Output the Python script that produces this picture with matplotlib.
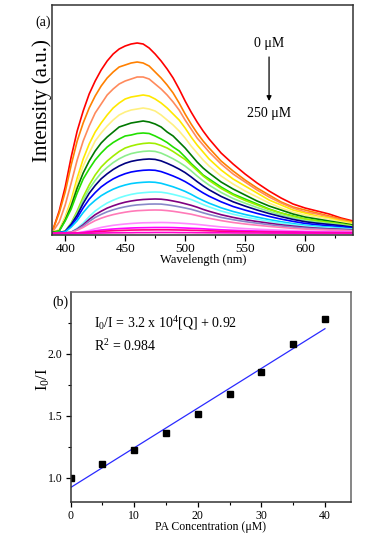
import matplotlib
matplotlib.use('Agg')
import matplotlib.pyplot as plt
from matplotlib.ticker import MultipleLocator

plt.rcParams['font.family'] = ['Liberation Serif', 'DejaVu Serif']
plt.rcParams['mathtext.fontset'] = 'custom'
plt.rcParams['mathtext.rm'] = 'Liberation Serif'
plt.rcParams['mathtext.it'] = 'Liberation Serif:italic'
plt.rcParams['mathtext.bf'] = 'Liberation Serif:bold'

# ---------------- data: panel (a) emission spectra ----------------
wavelength = [390, 395, 400, 405, 410, 415, 420, 425, 430, 435, 440, 445, 450, 455,
              460, 465, 470, 475, 480, 485, 490, 495, 500, 505, 510, 515, 520,
              530, 540, 550, 560, 570, 580, 590, 600, 610, 620, 630, 640]

spec_red = [6, 24, 48, 78, 104, 124, 141, 154, 165, 174, 181, 186, 189, 191, 192, 191, 187, 181,
            174, 166, 157, 146, 134, 123, 113, 104, 96,
            82, 71, 61, 52, 44, 37, 31, 27, 24, 21, 17, 14]
spec_orange = [6, 22, 43, 70, 94, 112, 127, 139, 149, 157, 163, 168, 170, 172, 173, 172, 169, 163,
               157, 150, 142, 132, 121, 111, 102, 94, 87,
               74, 64, 55, 47, 40, 33, 28, 25, 22, 19, 16, 13]
spec_coral = [4, 13, 30, 52, 75, 94, 109, 122, 131, 140, 146, 151, 154, 156, 158, 158, 156, 151,
              146, 140, 133, 125, 115, 106, 97, 90, 83,
              71, 61, 53, 45, 38, 32, 27, 23, 21, 18, 15, 12]
spec_yellow = [3, 5, 18, 35, 57, 76, 91, 103, 112, 120, 127, 132, 136, 138, 139, 140, 139, 136,
               132, 127, 121, 115, 107, 98, 90, 83, 76,
               65, 56, 49, 42, 35, 30, 25, 22, 19, 17, 14, 12]
spec_lightyellow = [3, 5, 17, 32, 52, 69, 82, 94, 102, 109, 115, 120, 123, 125, 126, 127, 126, 124,
                    120, 115, 110, 104, 97, 89, 82, 75, 69,
                    59, 51, 44, 38, 32, 27, 23, 20, 18, 16, 13, 11]
spec_darkgreen = [3, 4, 15, 29, 47, 62, 74, 84, 92, 98, 103, 108, 110, 112, 113, 114, 113, 111,
                  108, 103, 99, 93, 87, 80, 73, 67, 62,
                  53, 46, 40, 34, 29, 25, 21, 18, 16, 14, 12, 10]
spec_green = [2.5, 4, 14, 26, 42, 56, 66, 75, 82, 88, 92.5, 96, 99, 100, 101.5, 102, 101.5, 99,
              96, 92.5, 88, 84, 78, 71.5, 66, 60, 56,
              48, 41, 36, 31, 26, 22, 19, 16, 14.4, 12.8, 11, 9]
spec_chartreuse = [2, 2.5, 4, 12, 24, 38, 50, 60, 68, 74, 79, 83.5, 87, 89, 90.5, 91.5, 92, 91.5,
                   89.5, 87, 83.5, 79.5, 75.5, 70, 64.5, 59, 54.5,
                   46.5, 40, 34.5, 30, 25.5, 22, 18.5, 16, 14, 12.5, 11, 9]
spec_lightgreen = [2, 2.4, 3.7, 11.5, 22, 35, 46, 54.6, 62, 67.6, 72.4, 76.2, 79.2, 81.4, 82.7,
                   83.6, 84, 83.6, 81.9, 79.2, 76.2, 72.8, 68.9, 64.2, 59, 54.2, 49.9,
                   42.6, 36.5, 31.8, 27.5, 23.6, 20.1, 17.1, 14.5, 12.8, 11.5, 10.2, 8.5]
spec_navy = [2, 2.4, 3.6, 10.6, 19.9, 31.6, 41.7, 49.5, 56.2, 61.2, 65.5, 69, 71.7, 73.6, 74.8,
             75.6, 76, 75.6, 74.1, 71.7, 69, 65.9, 62.4, 58.1, 53.4, 49.1, 45.2,
             38.6, 33.2, 28.9, 25, 21.5, 18.4, 15.6, 13.3, 11.8, 10.6, 9.4, 7.8]
spec_blue = [2, 2.3, 3.3, 9.3, 17.2, 27.2, 35.8, 42.4, 48.1, 52.4, 56.1, 59, 61.3, 63, 64,
             64.7, 65, 64.7, 63.4, 61.3, 59, 56.4, 53.4, 49.8, 45.8, 42.1, 38.8,
             33.2, 28.5, 24.9, 21.6, 18.6, 15.9, 13.6, 11.6, 10.3, 9.3, 8.3, 7]
spec_cyan = [2, 2.3, 3.1, 7.9, 14.3, 22.4, 29.4, 34.7, 39.3, 42.8, 45.8, 48.2, 50, 51.4, 52.2,
             52.7, 53, 52.7, 51.7, 50, 48.2, 46, 43.6, 40.7, 37.4, 34.5, 31.8,
             27.2, 23.5, 20.5, 17.9, 15.4, 13.3, 11.4, 9.8, 8.7, 7.9, 7.1, 6]
spec_lightcyan = [2, 2, 2.2, 2.9, 6.8, 11.9, 18.4, 24, 28.3, 32, 34.8, 37.2, 39.1, 40.6, 41.7,
                  42.3, 42.8, 43, 42.8, 41.9, 40.6, 39.1, 37.4, 35.5, 33.1, 30.5, 28.1,
                  24, 20.8, 18.1, 15.8, 13.8, 11.9, 10.3, 8.9, 7.8, 7.1, 6.4, 5.7]
spec_purple = [2, 2, 2.2, 2.7, 5.9, 10.2, 15.6, 20.3, 23.8, 26.9, 29.2, 31.2, 32.8, 34, 34.9,
               35.5, 35.8, 36, 35.8, 35.1, 34, 32.8, 31.3, 29.7, 27.8, 25.6, 23.7,
               20.3, 17.6, 15.3, 13.5, 11.8, 10.2, 8.9, 7.7, 6.8, 6.2, 5.7, 5.1]
spec_slate = [2, 2, 2.1, 2.6, 5.4, 9, 13.6, 17.6, 20.6, 23.2, 25.2, 26.9, 28.2, 29.3, 30.1,
              30.5, 30.9, 31, 30.9, 30.2, 29.3, 28.2, 27, 25.7, 24, 22.2, 20.5,
              17.6, 15.3, 13.4, 11.8, 10.3, 9, 7.9, 6.9, 6.1, 5.6, 5.1, 4.6]
spec_pink = [2, 2, 2.1, 2.5, 4.7, 7.6, 11.2, 14.4, 16.8, 18.8, 20.4, 21.7, 22.8, 23.7, 24.3,
             24.6, 24.9, 25, 24.9, 24.4, 23.7, 22.8, 21.8, 20.8, 19.4, 18, 16.7,
             14.4, 12.5, 11, 9.8, 8.6, 7.6, 6.6, 5.9, 5.3, 4.9, 4.5, 4.1]
spec_violet = [2, 2, 2, 2.05, 2.2, 3.2, 4.5, 6.2, 7.6, 8.7, 9.7, 10.4, 11, 11.5, 11.9,
               12.2, 12.3, 12.4, 12.5, 12.4, 12.2, 11.9, 11.5, 11.1, 10.6, 10, 9.3,
               8.1, 7.2, 6.4, 5.8, 5.3, 4.8, 4.3, 3.9, 3.6, 3.4, 3.2, 3.05]
spec_magenta = [2, 2, 2, 2, 2.1, 2.6, 3.3, 4.2, 5, 5.5, 6, 6.4, 6.7, 7, 7.2,
                7.3, 7.4, 7.5, 7.5, 7.5, 7.4, 7.2, 7, 6.7, 6.5, 6.2, 5.8,
                5.2, 4.7, 4.3, 4, 3.7, 3.4, 3.2, 3, 2.8, 2.7, 2.6, 2.55]
spec_deeppink = [1.8, 1.8, 1.8, 1.8, 1.9, 2.2, 2.6, 3.2, 3.6, 4, 4.3, 4.5, 4.7, 4.9, 5,
                 5.1, 5.1, 5.2, 5.2, 5.2, 5.1, 5, 4.9, 4.7, 4.6, 4.4, 4.2,
                 3.8, 3.5, 3.2, 3, 2.9, 2.7, 2.6, 2.4, 2.3, 2.25, 2.2, 2.15]
spec_fuchsia = [1.5, 1.5, 1.5, 1.5, 1.6, 1.7, 1.8, 1.9, 2.0, 2.1, 2.2, 2.2, 2.3, 2.3, 2.4,
                2.4, 2.4, 2.5, 2.5, 2.5, 2.5, 2.4, 2.4, 2.4, 2.3, 2.3, 2.2,
                2.2, 2.1, 2.0, 2.0, 1.9, 1.9, 1.8, 1.8, 1.7, 1.7, 1.7, 1.6]

# ---------------- data: panel (b) Stern-Volmer ----------------
pa_conc = [0, 5, 10, 15, 20, 25, 30, 35, 40]
i0_over_i = [1.00, 1.107, 1.22, 1.363, 1.51, 1.677, 1.852, 2.077, 2.278]
fit_x = [0, 40]
fit_y = [0.92, 2.20]

# ---------------- styling ----------------
series = [
    (spec_red, '#ff0000'),
    (spec_orange, '#ff8000'),
    (spec_coral, '#ff8a5c'),
    (spec_yellow, '#ffe800'),
    (spec_lightyellow, '#fff080'),
    (spec_darkgreen, '#007800'),
    (spec_green, '#22e000'),
    (spec_chartreuse, '#a0ee00'),
    (spec_lightgreen, '#8cee8c'),
    (spec_navy, '#000080'),
    (spec_blue, '#0000ff'),
    (spec_cyan, '#00ccff'),
    (spec_lightcyan, '#70ffff'),
    (spec_purple, '#800080'),
    (spec_slate, '#8888c8'),
    (spec_pink, '#ff7ab8'),
    (spec_violet, '#ff88ff'),
    (spec_magenta, '#ff00ff'),
    (spec_deeppink, '#ff0080'),
    (spec_fuchsia, '#ff00cc'),
]

W, H = 380, 541
fig = plt.figure(figsize=(W / 100, H / 100), dpi=100)


def fx(px):
    return px / W


def fy(py):
    return 1 - py / H


spine_col = '#333333'

# ---------- panel (a) ----------
axa = fig.add_axes([fx(52), fy(235), (353 - 52) / W, (235 - 5) / H])
for vals, col in series:
    axa.plot(wavelength, vals, color=col, lw=1.2, solid_joinstyle='round')
axa.set_xlim(389, 640)
axa.set_ylim(0, 230)
axa.set_yticks([])
axa.xaxis.set_major_locator(MultipleLocator(50))
axa.xaxis.set_minor_locator(MultipleLocator(25))
axa.tick_params(axis='x', which='major', direction='out', length=4, width=0.9,
                labelsize=9.5, pad=1.5, colors='black')
axa.tick_params(axis='x', which='minor', direction='out', length=2.5, width=0.8)
for s in axa.spines.values():
    s.set_color(spine_col)
    s.set_linewidth(1.1)

fig.text(fx(203), fy(260.5), 'Wavelength (nm)', ha='center', va='center', fontsize=9)
fig.text(fx(42), fy(101), 'Intensity (a.u.)', ha='center', va='center',
         rotation=90, fontsize=15)
fig.text(fx(43), fy(22), '(a)', ha='center', va='center', fontsize=10)

axa.text(570, 191, '0 \u03bcM', ha='center', va='center', fontsize=10)
axa.text(570, 122, '250 \u03bcM', ha='center', va='center', fontsize=10)
axa.annotate('', xy=(570, 134), xytext=(570, 178),
             arrowprops=dict(arrowstyle='-|>', color='black', lw=0.9,
                             mutation_scale=7, shrinkA=0, shrinkB=0))

# ---------- panel (b) ----------
axb = fig.add_axes([fx(70.7), fy(502), (351 - 70.7) / W, (502 - 292) / H])
axb.plot(fit_x, fit_y, color='#2a2aff', lw=0.9)
axb.plot(pa_conc, i0_over_i, linestyle='none', marker='s', ms=4.2,
         color='black', mec='black')
axb.set_xlim(0, 44.1)
axb.set_ylim(0.803, 2.496)
axb.xaxis.set_major_locator(MultipleLocator(10))
axb.xaxis.set_minor_locator(MultipleLocator(5))
axb.yaxis.set_major_locator(MultipleLocator(0.5))
axb.yaxis.set_minor_locator(MultipleLocator(0.25))
axb.tick_params(which='major', direction='out', length=3.5, width=0.9,
                labelsize=8.5, pad=2.5)
axb.tick_params(which='minor', direction='out', length=2, width=0.8)
for s in axb.spines.values():
    s.set_color(spine_col)
    s.set_linewidth(1.1)
axb.spines['top'].set_color('#666666')
axb.spines['right'].set_color('#666666')

fig.text(fx(211), fy(527), 'PA Concentration (\u03bcM)', ha='center', va='center',
         fontsize=8.5)
fig.text(fx(43), fy(379), r'I$_0$/I', ha='center', va='center', rotation=90,
         fontsize=12)
fig.text(fx(60), fy(302), '(b)', ha='center', va='center', fontsize=10)
fig.text(fx(93.5), fy(323), r'I$_0$/I = 3.2 x 10$^4$[Q] + 0.92', ha='left',
         va='center', fontsize=10)
fig.text(fx(93.5), fy(346.5), r'R$^2$ = 0.984', ha='left', va='center', fontsize=10)

fig.savefig('out.png', dpi=100)
